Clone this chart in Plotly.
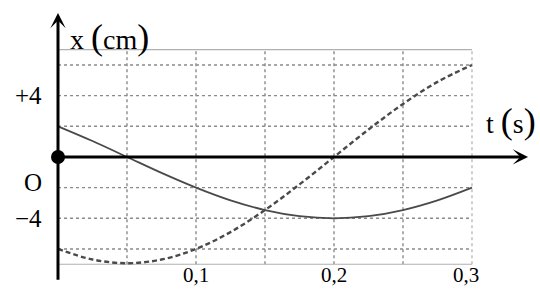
import plotly.graph_objects as go

# Data
t = [0, 0.025, 0.05, 0.075, 0.1, 0.125, 0.15, 0.175, 0.2, 0.225, 0.25, 0.275, 0.3]
x1 = [2.0, 1.04, 0.0, -1.04, -2.0, -2.83, -3.46, -3.86, -4.0, -3.86, -3.46, -2.83, -2.0]
x2 = [-6.0, -6.69, -6.93, -6.69, -6.0, -4.9, -3.46, -1.79, 0.0, 1.79, 3.46, 4.9, 6.0]

t_grid = [0.05, 0.1, 0.15, 0.2, 0.25]
x_grid = [-6, -4, -2, 2, 4, 6]
t_ticks = [0.1, 0.2, 0.3]
t_tick_labels = ["0,1", "0,2", "0,3"]
y_ticks = [4, -4]
y_tick_labels = ["+4", "−4"]

T_MAX = 0.3
X_LIM = 7

fig = go.Figure()

# grid
shapes = []
dot = dict(color="#8a8a8a", width=1.4, dash="dot")
for tg in t_grid:
    shapes.append(dict(type="line", x0=tg, x1=tg, y0=-X_LIM, y1=X_LIM, line=dot, layer="below"))
for xg in x_grid:
    shapes.append(dict(type="line", x0=0, x1=T_MAX, y0=xg, y1=xg, line=dot, layer="below"))
solid = dict(color="#b0b0b0", width=1.2)
shapes.append(dict(type="line", x0=0, x1=T_MAX, y0=X_LIM, y1=X_LIM, line=solid, layer="below"))
shapes.append(dict(type="line", x0=0, x1=T_MAX, y0=-X_LIM, y1=-X_LIM, line=solid, layer="below"))
shapes.append(dict(type="line", x0=T_MAX, x1=T_MAX, y0=-X_LIM, y1=X_LIM, line=dict(color="#b0b0b0", width=1.2, dash="dot"), layer="below"))

fig.add_trace(go.Scatter(x=t, y=x1, mode="lines", line=dict(color="#4a4a4a", width=1.8, shape="spline"), showlegend=False))
fig.add_trace(go.Scatter(x=t, y=x2, mode="lines", line=dict(color="#4a4a4a", width=2.4, dash="5px,3px", shape="spline"), showlegend=False))

annotations = []
# axes with arrows
annotations.append(dict(x=0.3406, y=0, ax=0, ay=0, xref="x", yref="y", axref="x", ayref="y",
                        showarrow=True, arrowhead=3, arrowwidth=3, arrowsize=0.85, arrowcolor="black", text=""))
annotations.append(dict(x=0, y=9.4, ax=0, ay=-8.1, xref="x", yref="y", axref="x", ayref="y",
                        showarrow=True, arrowhead=3, arrowwidth=3, arrowsize=0.85, arrowcolor="black", text=""))

serif = "Liberation Serif"
annotations.append(dict(x=0.0072, y=7.85, xref="x", yref="y", xanchor="left", yanchor="middle", showarrow=False,
                        text="x <span style='font-size:36px'>(</span>cm<span style='font-size:36px'>)</span>",
                        font=dict(family=serif, size=28, color="black")))
annotations.append(dict(x=0.3085, y=2.35, xref="x", yref="y", xanchor="left", yanchor="middle", showarrow=False,
                        text="t <span style='font-size:36px'>(</span>s<span style='font-size:36px'>)</span>",
                        font=dict(family=serif, size=28, color="black")))
for yv, lab in zip(y_ticks, y_tick_labels):
    annotations.append(dict(x=-0.0105, y=yv, xref="x", yref="y", xanchor="right", yanchor="middle", showarrow=False,
                            text=lab, font=dict(family=serif, size=25, color="black")))
annotations.append(dict(x=-0.0105, y=-1.65, xref="x", yref="y", xanchor="right", yanchor="middle", showarrow=False,
                        text="O", font=dict(family=serif, size=25, color="black")))
for tv, lab in zip(t_ticks, t_tick_labels):
    xa = tv if tv < T_MAX else tv - 0.004
    annotations.append(dict(x=xa, y=-7.7, xref="x", yref="y", xanchor="center", yanchor="middle", showarrow=False,
                            text=lab, font=dict(family=serif, size=21, color="black")))

# origin dot
fig.add_trace(go.Scatter(x=[0], y=[0], mode="markers", marker=dict(color="black", size=14), showlegend=False))

fig.update_layout(
    width=540, height=296,
    margin=dict(l=0, r=0, t=0, b=0),
    paper_bgcolor="white", plot_bgcolor="white",
    xaxis=dict(range=[-0.04203, 0.34928], visible=False, fixedrange=True),
    yaxis=dict(range=[-9.07, 10.24], visible=False, fixedrange=True),
    shapes=shapes, annotations=annotations,
)

fig.write_html("out.html")
